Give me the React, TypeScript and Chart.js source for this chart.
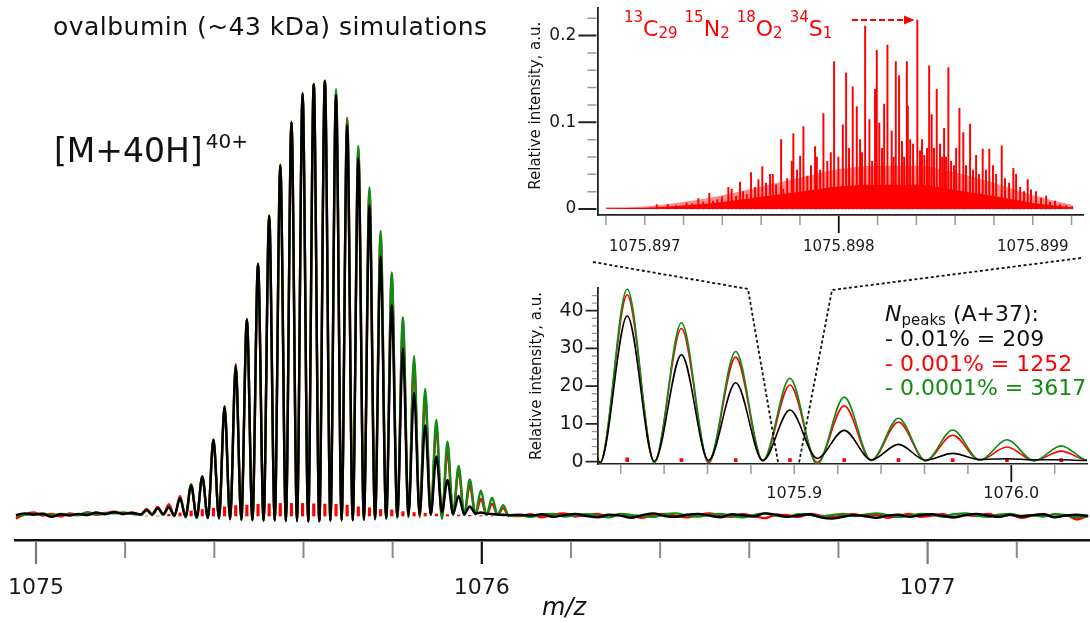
import React, { useEffect, useRef } from "react";
import { Chart, registerables } from "chart.js";
Chart.register(...registerables);

const FONT = "'DejaVu Sans', Verdana, sans-serif";

// ---------- isotopic envelope of [M+40H]40+ (relative intensity, % of the tallest peak) ----------
const peakMz = [1075.248, 1075.273, 1075.298, 1075.323, 1075.348, 1075.373, 1075.398, 1075.423, 1075.448, 1075.473, 1075.498, 1075.523, 1075.548, 1075.573, 1075.598, 1075.623, 1075.648, 1075.673, 1075.698, 1075.723, 1075.748, 1075.773, 1075.798, 1075.823, 1075.848, 1075.873, 1075.898, 1075.923, 1075.948, 1075.973, 1075.998, 1076.023, 1076.048];
const valleyMz = [1075.2355, 1075.2605, 1075.2855, 1075.3105, 1075.3355, 1075.3605, 1075.3855, 1075.4105, 1075.4355, 1075.4605, 1075.4855, 1075.5105, 1075.5355, 1075.5605, 1075.5855, 1075.6105, 1075.6355, 1075.6605, 1075.6855, 1075.7105, 1075.7355, 1075.7605, 1075.7855, 1075.8105, 1075.8355, 1075.8605, 1075.8855, 1075.9105, 1075.9355, 1075.9605, 1075.9855, 1076.0105, 1076.0355, 1076.0605];

const blackPeaks = [1.4, 1.8, 2.0, 4.1, 7.0, 9.0, 17.5, 25.1, 34.5, 45.2, 58.0, 69.1, 80.7, 90.6, 97.2, 99.3, 100, 96.8, 89.9, 82.3, 71.5, 59.7, 48.5, 38.6, 28.3, 20.9, 13.7, 8.3, 4.6, 2.2, 0.8, 0.5, 0.3];
const redPeaks = [1.6, 2.1, 2.7, 4.6, 7.2, 9.2, 17.6, 25.3, 35.0, 45.3, 58.1, 69.2, 80.8, 90.7, 97.3, 99.4, 100.1, 97.8, 91.6, 84.5, 74.8, 64.5, 54.8, 44.2, 35.3, 27.7, 20.3, 14.8, 10.5, 7.0, 3.9, 2.8, 1.8];
const greenPeaks = [1.3, 1.7, 2.0, 4.2, 7.3, 9.1, 17.6, 25.2, 34.7, 45.2, 58.0, 69.1, 80.7, 90.6, 97.3, 99.4, 100.2, 98.2, 91.3, 85.1, 75.6, 65.6, 56.0, 45.7, 36.8, 29.2, 22.1, 17.1, 11.5, 8.4, 5.8, 4.2, 2.5];

const blackValleys = [0.4, 0.3, 0.5, 0.1, -0.1, -0.3, -0.4, -0.5, -0.7, -0.8, -0.9, -1.1, -1.0, -1.2, -1.1, -1.3, -1.2, -1.0, -0.9, -1.0, -0.8, -0.6, -0.5, -0.2, 0.1, 0.4, 0.3, 0.9, 0.5, 0.4, 0.6, 0.5, 0.3, 0.2];
const redValleys = [0.3, 0.4, 0.2, 0.0, -0.3, -0.4, -0.5, -0.6, -0.8, -0.9, -1.0, -1.0, -1.1, -1.0, -1.2, -1.2, -1.1, -1.0, -1.0, -0.9, -0.8, -0.7, -0.5, -0.3, 0.0, -0.3, 0.2, -0.2, 0.3, 0.3, 0.4, 0.3, 0.3, 0.1];
const greenValleys = [0.2, 0.3, 0.3, 0.0, -0.3, -0.5, -0.5, -0.6, -0.7, -0.9, -1.0, -1.1, -1.0, -1.1, -1.2, -1.2, -1.2, -1.1, -1.1, -1.0, -0.9, -0.8, -0.7, -0.4, -0.3, 0.0, 0.3, -0.7, 0.3, 0.2, 0.4, 0.2, 0.3, 0.0];

// red centroid sticks drawn at the peak centres
const redStickHeights = [0, 0, 0.4, 0.7, 1.15, 1.5, 1.8, 2.1, 2.4, 2.5, 2.7, 2.8, 2.9, 2.9, 2.9, 2.8, 2.75, 2.7, 2.5, 2.1, 1.9, 1.5, 1.4, 1.0, 0.8, 0.6, 0.46, 0.3, 0.23, 0.15, 0.1, 0.08, 0.05];

// baseline noise
const noiseLeftMz = [1074.955, 1074.975, 1074.995, 1075.015, 1075.035, 1075.055, 1075.075, 1075.095, 1075.115, 1075.135, 1075.155, 1075.175, 1075.195, 1075.215];
const blackNoiseLeft = [0.2, 0.6, 0.3, 0.5, -0.2, 0.4, 0.1, 0.5, 0.2, 0.8, 0.4, 0.9, 0.5, 0.7];
const redNoiseLeft = [-0.6, 0.4, 0.8, 0.1, 0.5, -0.1, 0.6, 0.2, 0.7, 0.3, 0.6, 1.0, 0.4, 0.8];
const greenNoiseLeft = [0.0, 0.3, 0.5, 0.6, 0.1, 0.5, 0.3, 0.2, 0.9, 0.4, 0.7, 0.6, 0.8, 0.5];

const noiseRightMz = [1076.085, 1076.11, 1076.135, 1076.16, 1076.185, 1076.21, 1076.235, 1076.26, 1076.285, 1076.31, 1076.335, 1076.36, 1076.385, 1076.41, 1076.435, 1076.46, 1076.485, 1076.51, 1076.535, 1076.56, 1076.585, 1076.61, 1076.635, 1076.66, 1076.685, 1076.71, 1076.735, 1076.76, 1076.785, 1076.81, 1076.835, 1076.86, 1076.885, 1076.91, 1076.935, 1076.96, 1076.985, 1077.01, 1077.035, 1077.06, 1077.085, 1077.11, 1077.135, 1077.16, 1077.185, 1077.21, 1077.235, 1077.26, 1077.285, 1077.31, 1077.335, 1077.36];
const blackNoiseRight = [0.3, 0.1, 0.4, -0.2, 0.2, 0.5, 0.0, -0.3, 0.3, 0.1, -0.4, 0.2, 0.6, 0.0, -0.2, 0.3, 0.5, 0.1, -0.3, 0.4, 0.2, -0.1, 0.6, 0.3, -0.2, 0.1, 0.4, -0.3, -0.6, -0.2, 0.2, 0.0, -0.4, 0.1, 0.3, -0.2, 0.2, 0.4, 0.0, -0.3, 0.2, 0.5, 0.1, -0.2, 0.3, -0.1, 0.2, 0.4, -0.3, 0.1, 0.3, 0.0];
const redNoiseRight = [0.0, 0.4, -0.3, 0.3, 0.6, -0.1, 0.2, 0.5, -0.2, 0.4, 0.1, -0.4, 0.3, 0.5, 0.0, -0.3, 0.2, 0.6, 0.1, -0.2, 0.4, 0.0, -0.5, 0.3, 0.2, -0.2, 0.5, 0.1, -0.3, 0.2, 0.4, -0.1, 0.3, -0.4, 0.0, 0.5, -0.2, 0.1, 0.4, -0.3, 0.2, 0.0, 0.5, -0.1, 0.3, -0.4, 0.1, 0.4, -0.2, 0.2, -0.8, 0.1];
const greenNoiseRight = [0.2, -0.2, 0.3, 0.5, -0.1, 0.2, 0.4, 0.1, -0.3, 0.5, 0.2, 0.0, -0.2, 0.4, 0.6, 0.1, -0.1, 0.3, 0.5, 0.0, -0.3, 0.2, 0.6, 0.1, -0.2, 0.4, 0.3, -0.1, 0.2, 0.5, 0.0, 0.3, 0.6, 0.2, -0.2, 0.1, 0.5, 0.3, -0.1, 0.4, 0.6, 0.1, -0.2, 0.3, 0.5, 0.0, 0.2, -0.1, 0.4, 0.2, -0.3, 0.0];

// ---------- fine structure of the A+37 peak (top inset) ----------
const stickMz = [
  1075.897062, 1075.897119, 1075.897161, 1075.897216, 1075.897244, 1075.897276, 1075.897301, 1075.897333, 1075.897352, 1075.897374,
  1075.897398, 1075.897431, 1075.897448, 1075.897471, 1075.897491, 1075.897507, 1075.897526, 1075.897548, 1075.897569, 1075.897586,
  1075.897606, 1075.897625, 1075.897646, 1075.89766, 1075.897677, 1075.897703, 1075.897714, 1075.897734, 1075.897758, 1075.897766,
  1075.897785, 1075.897801, 1075.897818, 1075.897838, 1075.897857, 1075.897878, 1075.897887, 1075.897904, 1075.897921, 1075.897941,
  1075.897959, 1075.897976, 1075.897998, 1075.898021, 1075.898038, 1075.898053, 1075.898072, 1075.898093, 1075.89811, 1075.89812,
  1075.898136, 1075.898158, 1075.898172, 1075.898187, 1075.898196, 1075.898209, 1075.898223, 1075.898234, 1075.898251, 1075.898273,
  1075.898283, 1075.898294, 1075.898311, 1075.898326, 1075.898337, 1075.898351, 1075.898356, 1075.898368, 1075.898383, 1075.898405,
  1075.898419, 1075.898429, 1075.898441, 1075.898455, 1075.898466, 1075.898479, 1075.898491, 1075.898505, 1075.898522, 1075.898533,
  1075.898543, 1075.898553, 1075.898565, 1075.898579, 1075.898594, 1075.898605, 1075.898622, 1075.898642, 1075.898656, 1075.898677,
  1075.898692, 1075.898708, 1075.898723, 1075.898742, 1075.898759, 1075.898776, 1075.898795, 1075.898811, 1075.89884, 1075.898857,
  1075.898878, 1075.8989, 1075.898914, 1075.898935, 1075.898955, 1075.898974, 1075.898991, 1075.899017, 1075.899043, 1075.899069,
  1075.899089, 1075.899115, 1075.899141, 1075.899172, 1075.899203,
];
const stickHeights = [
  0.005, 0.005, 0.004, 0.007, 0.006, 0.012, 0.008, 0.018, 0.009, 0.011,
  0.014, 0.025, 0.023, 0.015, 0.031, 0.02, 0.017, 0.042, 0.025, 0.034,
  0.049, 0.03, 0.04, 0.04, 0.028, 0.08, 0.023, 0.035, 0.055, 0.087,
  0.045, 0.061, 0.095, 0.038, 0.05, 0.072, 0.06, 0.045, 0.11, 0.055,
  0.065, 0.17, 0.06, 0.097, 0.157, 0.07, 0.141, 0.118, 0.08, 0.065,
  0.211, 0.103, 0.055, 0.138, 0.183, 0.099, 0.07, 0.121, 0.189, 0.09,
  0.06, 0.17, 0.154, 0.078, 0.06, 0.17, 0.119, 0.08, 0.075, 0.218,
  0.067, 0.08, 0.062, 0.07, 0.165, 0.109, 0.07, 0.138, 0.075, 0.06,
  0.093, 0.06, 0.163, 0.055, 0.05, 0.07, 0.116, 0.088, 0.05, 0.098,
  0.045, 0.062, 0.04, 0.069, 0.045, 0.069, 0.05, 0.04, 0.073, 0.035,
  0.03, 0.047, 0.04, 0.025, 0.02, 0.034, 0.022, 0.02, 0.013, 0.015,
  0.008, 0.009, 0.005, 0.004, 0.003,
];
// dense unresolved sticks: solid and lighter envelopes
const envMz = [1075.8968, 1075.897, 1075.8972, 1075.8974, 1075.8976, 1075.8978, 1075.898, 1075.8982, 1075.8984, 1075.8986, 1075.8988, 1075.899, 1075.8992];
const envSolid = [0.001, 0.0015, 0.004, 0.008, 0.014, 0.02, 0.026, 0.028, 0.028, 0.022, 0.015, 0.007, 0.002];
const envLight = [0.002, 0.003, 0.008, 0.016, 0.026, 0.036, 0.046, 0.05, 0.05, 0.042, 0.03, 0.016, 0.005];

// ---------- axis ticks ----------
const mainTickLabels = [1075, 1076, 1077];
const mainMinorTicks = [1075.2, 1075.4, 1075.6, 1075.8, 1076.2, 1076.4, 1076.6, 1076.8, 1077.2];
const in1XLabels = [1075.897, 1075.898, 1075.899];
const in1XMinor = [1075.8968, 1075.897, 1075.8972, 1075.8974, 1075.8976, 1075.8978, 1075.8982, 1075.8984, 1075.8986, 1075.8988, 1075.899, 1075.8992];
const in1YLabels = [0, 0.1, 0.2];
const in1YMinor = [0.02, 0.04, 0.06, 0.08, 0.12, 0.14, 0.16, 0.18, 0.22];
const in2XLabels = [1075.9, 1076.0];
const in2XMinor = [1075.82, 1075.84, 1075.86, 1075.88, 1075.9, 1075.92, 1075.94, 1075.96, 1075.98, 1076.02];
const in2YLabels = [0, 10, 20, 30, 40];
const in2YMinor = [2, 4, 6, 8, 12, 14, 16, 18, 22, 24, 26, 28, 32, 34, 36, 38, 42, 44];

const BLACK = "#000000";
const RED = "#ff0000";
const GREEN = "#138a13";

function buildSeries(peaks: number[], valleys: number[], nl: number[], nr: number[]) {
  const pts: { x: number; y: number }[] = [];
  nl.forEach((y, i) => pts.push({ x: noiseLeftMz[i], y }));
  peaks.forEach((y, i) => {
    pts.push({ x: valleyMz[i], y: valleys[i] });
    pts.push({ x: peakMz[i], y });
  });
  pts.push({ x: valleyMz[peaks.length], y: valleys[peaks.length] });
  nr.forEach((y, i) => pts.push({ x: noiseRightMz[i], y }));
  return pts;
}

function lineDs(data: any[], color: string, width: number, order: number) {
  return {
    type: "line",
    data,
    borderColor: color,
    backgroundColor: color,
    borderWidth: width,
    pointRadius: 0,
    cubicInterpolationMode: "monotone",
    fill: false,
    order,
  };
}

type Mark = { axis: string; values: number[]; from: number; to: number; color: string; width: number };
function tickPlugin(marks: Mark[]) {
  return {
    id: "tickMarks",
    afterDraw(chart: any) {
      const { ctx, chartArea, scales } = chart;
      marks.forEach((m) => {
        const s = scales[m.axis];
        ctx.save();
        ctx.strokeStyle = m.color;
        ctx.lineWidth = m.width;
        ctx.beginPath();
        m.values.forEach((v) => {
          const p = s.getPixelForValue(v);
          if (s.isHorizontal()) {
            ctx.moveTo(p, chartArea.bottom + m.from);
            ctx.lineTo(p, chartArea.bottom + m.to);
          } else {
            ctx.moveTo(chartArea.left - m.from, p);
            ctx.lineTo(chartArea.left - m.to, p);
          }
        });
        ctx.stroke();
        ctx.restore();
      });
    },
  };
}

function labelTicks(values: number[]) {
  return (scale: any) => {
    scale.ticks = values.map((v) => ({ value: v }));
  };
}

// fix the scale box size and drop the label-overflow padding so the chart area is exact
function fixSize(prop: "width" | "height", size: number) {
  return (s: any) => {
    s[prop] = size;
    s.paddingLeft = 0;
    s.paddingRight = 0;
    s.paddingTop = 0;
    s.paddingBottom = 0;
  };
}

const baseOpts = {
  responsive: false,
  animation: false,
  events: [],
  plugins: { legend: { display: false }, tooltip: { enabled: false } },
};

function seriesSet(width: number) {
  return [
    lineDs(buildSeries(blackPeaks, blackValleys, blackNoiseLeft, blackNoiseRight), BLACK, width, 0),
    lineDs(buildSeries(greenPeaks, greenValleys, greenNoiseLeft, greenNoiseRight), GREEN, width, 1),
    lineDs(buildSeries(redPeaks, redValleys, redNoiseLeft, redNoiseRight), RED, width, 2),
  ];
}

function mainConfig(): any {
  return {
    type: "line",
    data: {
      datasets: [
        ...seriesSet(2.4),
        {
          type: "bar",
          data: peakMz.map((x, i) => ({ x, y: redStickHeights[i] })),
          backgroundColor: RED,
          barThickness: 2.5,
          grouped: false,
          order: 3,
        },
      ],
    },
    options: {
      ...baseOpts,
      layout: { padding: { left: 15, right: 1, top: 0, bottom: 0 } },
      scales: {
        x: {
          type: "linear",
          min: 1074.9529,
          max: 1077.362,
          offset: false,
          grid: { display: false, drawTicks: false, offset: false },
          border: { display: true, color: "#111", width: 2.5 },
          afterBuildTicks: labelTicks(mainTickLabels),
          afterFit: fixSize("height", 83),
          ticks: {
            autoSkip: false,
            maxRotation: 0,
            padding: 35,
            color: "#1a1a1a",
            font: { family: FONT, size: 22 },
            callback: (v: any) => String(v),
          },
        },
        y: { display: false, min: -5.521, max: 118.7 },
      },
    },
    plugins: [
      tickPlugin([
        { axis: "x", values: mainMinorTicks, from: 1.5, to: 18, color: "#8a8a8a", width: 2 },
        { axis: "x", values: [1075, 1077], from: 1.5, to: 24, color: "#7a7a7a", width: 2.2 },
        { axis: "x", values: [1076], from: 1.5, to: 24, color: "#111", width: 2.2 },
      ]),
    ],
  };
}

function inset1Config(): any {
  return {
    type: "line",
    data: {
      datasets: [
        {
          type: "bar",
          data: stickMz.map((x, i) => ({ x, y: stickHeights[i] })),
          backgroundColor: RED,
          barThickness: 1.3,
          grouped: false,
          order: 0,
        },
        {
          type: "line",
          data: envMz.map((x, i) => ({ x, y: envSolid[i] })),
          borderWidth: 0,
          borderColor: RED,
          backgroundColor: RED,
          pointRadius: 0,
          fill: "origin",
          cubicInterpolationMode: "monotone",
          order: 1,
        },
        {
          type: "line",
          data: envMz.map((x, i) => ({ x, y: envLight[i] })),
          borderWidth: 0,
          borderColor: "rgba(255,0,0,0.45)",
          backgroundColor: "rgba(255,0,0,0.45)",
          pointRadius: 0,
          fill: "origin",
          cubicInterpolationMode: "monotone",
          order: 2,
        },
      ],
    },
    options: {
      ...baseOpts,
      layout: { padding: { left: 0, right: 6.6, top: 8.3, bottom: 0 } },
      scales: {
        x: {
          type: "linear",
          min: 1075.896756,
          max: 1075.899261,
          offset: false,
          grid: { display: false, drawTicks: false, offset: false },
          border: { display: true, color: "#222", width: 1.8 },
          afterBuildTicks: labelTicks(in1XLabels),
          afterFit: fixSize("height", 47),
          ticks: {
            autoSkip: false,
            maxRotation: 0,
            padding: 22.7,
            color: "#1a1a1a",
            font: { family: FONT, size: 15 },
            callback: (v: any) => Number(v).toFixed(3),
          },
        },
        y: {
          type: "linear",
          min: -0.00692,
          max: 0.23149,
          grid: { display: false, drawTicks: false },
          border: { display: true, color: "#222", width: 1.8 },
          afterBuildTicks: labelTicks(in1YLabels),
          afterFit: fixSize("width", 77.4),
          ticks: {
            autoSkip: false,
            padding: 21,
            color: "#1a1a1a",
            font: { family: FONT, size: 17 },
            callback: (v: any) => (Number(v) === 0 ? "0" : Number(v).toFixed(1)),
          },
        },
      },
    },
    plugins: [
      tickPlugin([
        { axis: "x", values: in1XMinor, from: 1, to: 10, color: "#999", width: 1.5 },
        { axis: "x", values: [1075.898], from: 1, to: 18, color: "#111", width: 1.8 },
        { axis: "y", values: in1YMinor, from: 1, to: 10, color: "#999", width: 1.5 },
        { axis: "y", values: in1YLabels, from: 1, to: 19, color: "#222", width: 2 },
      ]),
    ],
  };
}

function inset2Config(): any {
  return {
    type: "line",
    data: {
      datasets: [
        ...seriesSet(1.6),
        {
          type: "bar",
          data: peakMz.map((x, i) => ({ x, y: redStickHeights[i] })),
          backgroundColor: RED,
          barThickness: 3,
          minBarLength: 3,
          grouped: false,
          order: 3,
        },
      ],
    },
    options: {
      ...baseOpts,
      layout: { padding: { left: 0, right: 3, top: 18.3, bottom: 0 } },
      scales: {
        x: {
          type: "linear",
          min: 1075.80968,
          max: 1076.03488,
          offset: false,
          grid: { display: false, drawTicks: false, offset: false },
          border: { display: true, color: "#222", width: 1.5 },
          afterBuildTicks: labelTicks(in2XLabels),
          afterFit: fixSize("height", 42),
          ticks: {
            autoSkip: false,
            maxRotation: 0,
            padding: 20.4,
            color: "#1a1a1a",
            font: { family: FONT, size: 16 },
            callback: (v: any) => Number(v).toFixed(1),
          },
        },
        y: {
          type: "linear",
          min: -0.61,
          max: 45.93,
          grid: { display: false, drawTicks: false },
          border: { display: true, color: "#222", width: 1.8 },
          afterBuildTicks: labelTicks(in2YLabels),
          afterFit: fixSize("width", 78.3),
          ticks: {
            autoSkip: false,
            padding: 14.7,
            color: "#1a1a1a",
            font: { family: FONT, size: 19 },
            callback: (v: any) => String(v),
          },
        },
      },
    },
    plugins: [
      tickPlugin([
        { axis: "x", values: in2XMinor, from: 1, to: 10, color: "#999", width: 1.5 },
        { axis: "x", values: [1076.0], from: 1, to: 18, color: "#111", width: 1.8 },
        { axis: "y", values: in2YMinor, from: 1, to: 6.5, color: "#999", width: 1.3 },
        { axis: "y", values: in2YLabels, from: 1, to: 12.7, color: "#222", width: 1.8 },
      ]),
    ],
  };
}

export default function App() {
  const mainRef = useRef<HTMLCanvasElement>(null);
  const in1Ref = useRef<HTMLCanvasElement>(null);
  const in2Ref = useRef<HTMLCanvasElement>(null);

  useEffect(() => {
    const charts = [
      new Chart(mainRef.current as HTMLCanvasElement, mainConfig()),
      new Chart(in1Ref.current as HTMLCanvasElement, inset1Config()),
      new Chart(in2Ref.current as HTMLCanvasElement, inset2Config()),
    ];
    return () => charts.forEach((c) => c.destroy());
  }, []);

  const txt = { fontFamily: FONT } as React.CSSProperties;

  return (
    <div style={{ position: "fixed", left: 0, top: 0, width: 1090, height: 623, background: "#fff", overflow: "hidden" }}>
      <canvas ref={mainRef} width={1090} height={623} style={{ position: "absolute", left: 0, top: 0 }} />
      <canvas ref={in1Ref} width={570} height={262} style={{ position: "absolute", left: 520, top: 0 }} />
      <canvas ref={in2Ref} width={570} height={236} style={{ position: "absolute", left: 520, top: 270 }} />
      <svg width={1090} height={623} style={{ position: "absolute", left: 0, top: 0, pointerEvents: "none", ...txt }}>
        <text x={53} y={35} fontSize={25} fill="#111" textLength={434} lengthAdjust="spacing">
          ovalbumin (~43 kDa) simulations
        </text>
        <text x={54} y={162} fontSize={33} fill="#111">
          [M+40H]
          <tspan dx={3} y={148} fontSize={20}>40+</tspan>
        </text>
        <text x={564} y={615} fontSize={24} fontStyle="italic" textAnchor="middle" fill="#111">m/z</text>

        {/* top inset: formula and arrow */}
        <text x={624} y={36} fontSize={22} fill={RED}>
          <tspan y={22} fontSize={15}>13</tspan>
          <tspan y={36}>C</tspan>
          <tspan y={38} fontSize={15}>29</tspan>
          <tspan dx={7} y={22} fontSize={15}>15</tspan>
          <tspan y={36}>N</tspan>
          <tspan y={38} fontSize={15}>2</tspan>
          <tspan dx={7} y={22} fontSize={15}>18</tspan>
          <tspan y={36}>O</tspan>
          <tspan y={38} fontSize={15}>2</tspan>
          <tspan dx={7} y={22} fontSize={15}>34</tspan>
          <tspan y={36}>S</tspan>
          <tspan y={38} fontSize={15}>1</tspan>
        </text>
        <line x1={852} y1={20} x2={905} y2={20} stroke={RED} strokeWidth={2} strokeDasharray="6 3" />
        <polygon points="904,15.5 914.5,20 904,24.5" fill={RED} />
        <text transform="translate(534.5,105.7) rotate(-90)" textAnchor="middle" dominantBaseline="central" fontSize={15} fill="#111">
          Relative intensity, a.u.
        </text>

        {/* bottom inset: axis title and legend */}
        <text transform="translate(536.4,376) rotate(-90)" textAnchor="middle" dominantBaseline="central" fontSize={15} fill="#111">
          Relative intensity, a.u.
        </text>
        <text x={885} y={321} fontSize={22} fill="#111" style={{ whiteSpace: "pre" }}>
          <tspan fontStyle="italic">N</tspan>
          <tspan fontSize={15} dy={4}>peaks</tspan>
          <tspan dy={-4}>{" (A+37):"}</tspan>
        </text>
        <text x={885} y={345.5} fontSize={22} fill="#111">- 0.01% = 209</text>
        <text x={885} y={370.5} fontSize={22} fill={RED}>- 0.001% = 1252</text>
        <text x={885} y={395} fontSize={22} fill={GREEN}>- 0.0001% = 3617</text>

        {/* zoom connectors */}
        <polyline points="593,262 748,289 778,462" fill="none" stroke="#111" strokeWidth={1.8} strokeDasharray="3 2.5" />
        <polyline points="1081,258 832,290 799,463" fill="none" stroke="#111" strokeWidth={1.8} strokeDasharray="3 2.5" />
      </svg>
    </div>
  );
}
